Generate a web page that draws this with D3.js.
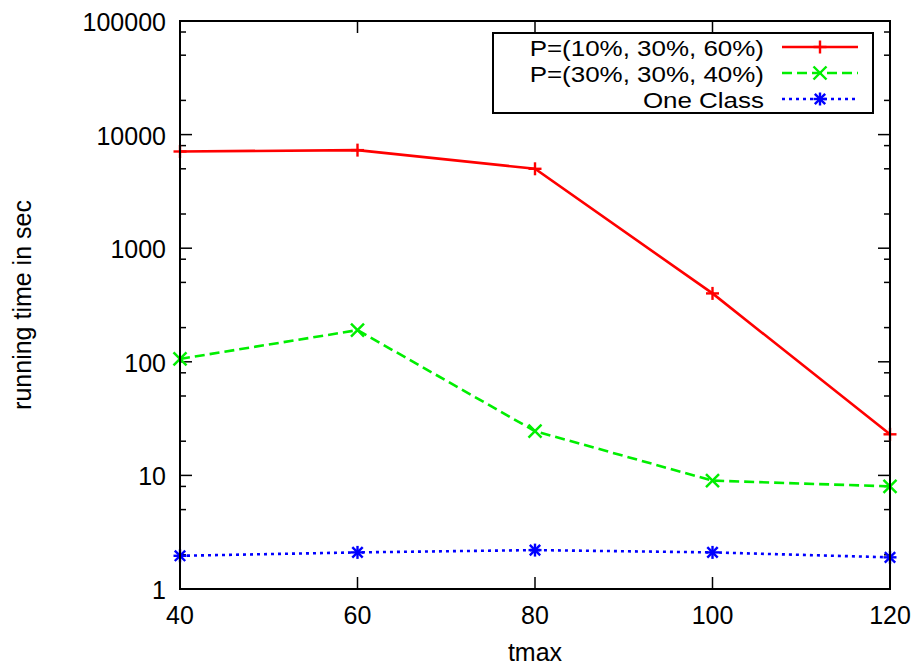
<!DOCTYPE html>
<html>
<head>
<meta charset="utf-8">
<script src="https://cdn.jsdelivr.net/npm/d3@7"></script>
<style>
  html, body { margin: 0; padding: 0; background: #fff; }
  svg { display: block; }
  text { font-family: "Liberation Sans", Arial, Helvetica, sans-serif; fill: #000; }
</style>
</head>
<body>
<svg id="chart" width="916" height="671"></svg>
<script>
// tmax values on the x axis
const tmax = [40, 60, 80, 100, 120];

// running time in seconds for each configuration
const seriesNames = ["P=(10%, 30%, 60%)", "P=(30%, 30%, 40%)", "One Class"];
const timesA = [7100, 7300, 5000, 400, 23];
const timesB = [106, 190, 24.5, 9, 8];
const timesC = [1.96, 2.1, 2.2, 2.1, 1.9];

const xTicks = [40, 60, 80, 100, 120];
const yTicks = [1, 10, 100, 1000, 10000, 100000];
const yMinorMultipliers = [2, 5, 8];

const seriesValues = [timesA, timesB, timesC];
const colors = ["#ff0000", "#00ee00", "#0000ff"];
const dashes = [null, "10,5", "3,4"];
const markers = ["plus", "cross", "star"];

const svg = d3.select("#chart");
const margin = { left: 180, right: 26, top: 21, bottom: 82 };
const W = 916, H = 671;
const x0 = margin.left, x1 = W - margin.right;
const y0 = margin.top, y1 = H - margin.bottom;

const x = d3.scaleLinear().domain([40, 120]).range([x0, x1]);
const y = d3.scaleLog().domain([1, 100000]).range([y1, y0]);

const tickFont = 25, legendFont = 22, titleFont = 25;
const majorLen = 12, minorLen = 6;

// minor tick values on the log axis
const yMinor = [];
for (let d = 1; d < 100000; d *= 10) {
  yMinorMultipliers.forEach(m => yMinor.push(d * m));
}

const axes = svg.append("g").attr("stroke", "#000").attr("stroke-width", 1.5);

// y ticks, mirrored on the right edge
yTicks.forEach(v => {
  const yy = y(v);
  axes.append("line").attr("x1", x0).attr("x2", x0 + majorLen).attr("y1", yy).attr("y2", yy);
  axes.append("line").attr("x1", x1).attr("x2", x1 - majorLen).attr("y1", yy).attr("y2", yy);
});
yMinor.forEach(v => {
  const yy = y(v);
  axes.append("line").attr("x1", x0).attr("x2", x0 + minorLen).attr("y1", yy).attr("y2", yy);
  axes.append("line").attr("x1", x1).attr("x2", x1 - minorLen).attr("y1", yy).attr("y2", yy);
});
// x ticks, mirrored on the top edge
xTicks.forEach(v => {
  const xx = x(v);
  axes.append("line").attr("x1", xx).attr("x2", xx).attr("y1", y1).attr("y2", y1 - majorLen);
  axes.append("line").attr("x1", xx).attr("x2", xx).attr("y1", y0).attr("y2", y0 + majorLen);
});

// tick labels
const labels = svg.append("g").attr("font-size", tickFont);
yTicks.forEach(v => {
  labels.append("text").attr("x", x0 - 14).attr("y", y(v) + 1)
    .attr("text-anchor", "end").attr("dominant-baseline", "central").text(String(v));
});
xTicks.forEach(v => {
  labels.append("text").attr("x", x(v)).attr("y", y1 + 35)
    .attr("text-anchor", "middle").text(String(v));
});

// axis titles
svg.append("text").attr("font-size", titleFont).attr("text-anchor", "middle")
  .attr("x", (x0 + x1) / 2).attr("y", H - 10).text("tmax");
svg.append("text").attr("font-size", titleFont).attr("text-anchor", "middle")
  .attr("transform", `translate(31,${(y0 + y1) / 2}) rotate(-90)`).text("running time in sec");

// marker shapes
function drawMarker(g, type, cx, cy, color) {
  const s = 6.5;
  const m = g.append("g").attr("stroke", color).attr("stroke-width", 2.4).attr("fill", "none");
  if (type === "plus" || type === "star") {
    m.append("line").attr("x1", cx - s).attr("x2", cx + s).attr("y1", cy).attr("y2", cy);
    m.append("line").attr("x1", cx).attr("x2", cx).attr("y1", cy - s).attr("y2", cy + s);
  }
  if (type === "cross" || type === "star") {
    const k = type === "star" ? s * 0.8 : s;
    m.append("line").attr("x1", cx - k).attr("x2", cx + k).attr("y1", cy - k).attr("y2", cy + k);
    m.append("line").attr("x1", cx - k).attr("x2", cx + k).attr("y1", cy + k).attr("y2", cy - k);
  }
}

// series lines and markers
const line = d3.line().x((d, i) => x(tmax[i])).y(d => y(d));
const plot = svg.append("g");
seriesValues.forEach((vals, si) => {
  plot.append("path").datum(vals).attr("d", line)
    .attr("fill", "none").attr("stroke", colors[si]).attr("stroke-width", 2.6)
    .attr("stroke-dasharray", dashes[si]);
  vals.forEach((v, i) => drawMarker(plot, markers[si], x(tmax[i]), y(v), colors[si]));
});

// frame
svg.append("rect").attr("x", x0).attr("y", y0).attr("width", x1 - x0).attr("height", y1 - y0)
  .attr("fill", "none").attr("stroke", "#000").attr("stroke-width", 2);

// legend: labels are set in a slightly widened face, right-aligned before the samples
const lg = svg.append("g");
lg.append("rect").attr("x", 493).attr("y", 33).attr("width", 380).attr("height", 80)
  .attr("fill", "#fff").attr("stroke", "#000").attr("stroke-width", 2);
const widen = 1.18;
seriesNames.forEach((name, si) => {
  const ly = 47 + si * 26;
  lg.append("text").attr("font-size", legendFont)
    .attr("transform", `translate(764,${ly + 1}) scale(${widen},1)`)
    .attr("text-anchor", "end").attr("dominant-baseline", "central").text(name);
  lg.append("line").attr("x1", 782).attr("x2", 858).attr("y1", ly).attr("y2", ly)
    .attr("stroke", colors[si]).attr("stroke-width", 2.6).attr("stroke-dasharray", dashes[si]);
  drawMarker(lg, markers[si], 820, ly, colors[si]);
});
</script>
</body>
</html>
